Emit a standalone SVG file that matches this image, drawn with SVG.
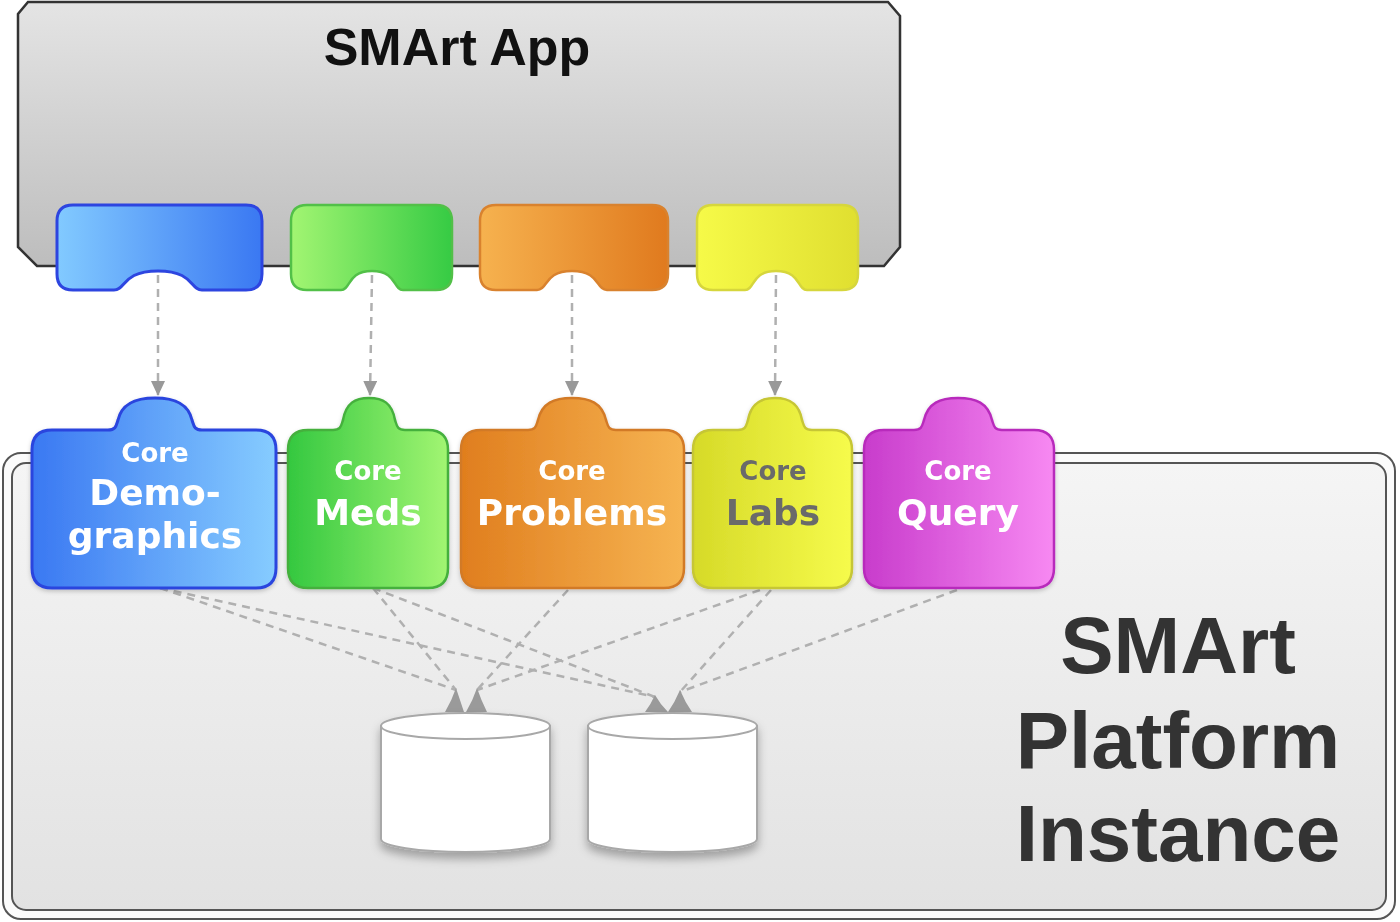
<svg xmlns="http://www.w3.org/2000/svg" width="1400" height="922" viewBox="0 0 1400 922">
<defs>
<style>
.conn{fill:none;stroke:#b0b0b0;stroke-width:2.5;stroke-dasharray:8 6}
.head{fill:#9a9a9a}
.core{font-family:"DejaVu Sans",Verdana,sans-serif;font-weight:bold;font-size:26px;text-anchor:middle;fill:#fff}
.big{font-family:"DejaVu Sans",Verdana,sans-serif;font-weight:bold;font-size:36px;text-anchor:middle;fill:#fff}
.dark{fill:#6a6a6a}
.plat{font-family:"Liberation Sans",Arial,sans-serif;font-weight:bold;font-size:80px;text-anchor:middle;fill:#333}
.cyl{fill:#fff;stroke:#a8a8a8;stroke-width:2}
</style>
<linearGradient id="gApp" x1="0" y1="0" x2="0" y2="1"><stop offset="0" stop-color="#e4e4e4"/><stop offset="1" stop-color="#bdbdbd"/></linearGradient>
<linearGradient id="gPlat" x1="0" y1="0" x2="0" y2="1"><stop offset="0" stop-color="#f5f5f5"/><stop offset="1" stop-color="#e2e2e2"/></linearGradient>
<linearGradient id="sBlue" x1="0" y1="0" x2="1" y2="0"><stop offset="0" stop-color="#82caff"/><stop offset="1" stop-color="#3a78f2"/></linearGradient>
<linearGradient id="sGreen" x1="0" y1="0" x2="1" y2="0"><stop offset="0" stop-color="#a2f572"/><stop offset="1" stop-color="#36cb44"/></linearGradient>
<linearGradient id="sOrange" x1="0" y1="0" x2="1" y2="0"><stop offset="0" stop-color="#f6b24f"/><stop offset="1" stop-color="#e07a1e"/></linearGradient>
<linearGradient id="sYellow" x1="0" y1="0" x2="1" y2="0"><stop offset="0" stop-color="#f6fa48"/><stop offset="1" stop-color="#e0df30"/></linearGradient>
<linearGradient id="pBlue" x1="0" y1="0" x2="1" y2="0"><stop offset="0" stop-color="#3a78f2"/><stop offset="1" stop-color="#86ccff"/></linearGradient>
<linearGradient id="pGreen" x1="0" y1="0" x2="1" y2="0"><stop offset="0" stop-color="#34c840"/><stop offset="1" stop-color="#a2f572"/></linearGradient>
<linearGradient id="pOrange" x1="0" y1="0" x2="1" y2="0"><stop offset="0" stop-color="#e07e1e"/><stop offset="1" stop-color="#f6b452"/></linearGradient>
<linearGradient id="pYellow" x1="0" y1="0" x2="1" y2="0"><stop offset="0" stop-color="#d6da28"/><stop offset="1" stop-color="#f6fb4c"/></linearGradient>
<linearGradient id="pMag" x1="0" y1="0" x2="1" y2="0"><stop offset="0" stop-color="#c83ccc"/><stop offset="1" stop-color="#f789f2"/></linearGradient>
<marker id="arr" viewBox="0 0 15 14" refX="15" refY="7" markerWidth="15" markerHeight="14" markerUnits="userSpaceOnUse" orient="auto">
<path d="M0,0 L15,7 L0,14 Z" fill="#999"/>
</marker>
<filter id="sh" x="-20%" y="-20%" width="140%" height="150%"><feDropShadow dx="0" dy="6" stdDeviation="5" flood-color="#000" flood-opacity="0.3"/></filter>
<filter id="sh2" x="-10%" y="-10%" width="120%" height="130%"><feDropShadow dx="0" dy="2" stdDeviation="2" flood-color="#000" flood-opacity="0.2"/></filter>
</defs>

<g id="platform">
<rect x="3" y="453" width="1392" height="466" rx="18" fill="#fbfbfb" stroke="#555" stroke-width="2"/>
<rect x="12" y="463" width="1374" height="447" rx="14" fill="url(#gPlat)" stroke="#555" stroke-width="2"/>
<text class="plat" x="1178" y="673">SMArt</text>
<text class="plat" x="1178" y="768">Platform</text>
<text class="plat" x="1178" y="861">Instance</text>
</g>

<g id="app">
<path d="M28,2 L888,2 L900,16 L900,247 L884,266 L37,266 L18,247 L18,14 Z" fill="url(#gApp)" stroke="#333" stroke-width="2.5"/>
<text x="457" y="65" font-family="Liberation Sans,Arial,sans-serif" font-weight="bold" font-size="52" text-anchor="middle" fill="#111">SMArt App</text>
</g>

<g id="socket-blue">
<path d="M73,205 L246,205 Q262,205 262,221 L262,274 Q262,290 246,290 L202,290 C190,290 194,271 158,271 C122,271 126,290 114,290 L73,290 Q57,290 57,274 L57,221 Q57,205 73,205 Z" fill="url(#sBlue)" stroke="#2d45e0" stroke-width="3"/>
</g>
<g id="socket-green">
<path d="M307,205 L436,205 Q452,205 452,221 L452,274 Q452,290 436,290 L403,290 C393,290 397,271 372,271 C347,271 351,290 341,290 L307,290 Q291,290 291,274 L291,221 Q291,205 307,205 Z" fill="url(#sGreen)" stroke="#52c048" stroke-width="2.5"/>
</g>
<g id="socket-orange">
<path d="M496,205 L652,205 Q668,205 668,221 L668,274 Q668,290 652,290 L607,290 C596,290 600,271 572,271 C544,271 548,290 537,290 L496,290 Q480,290 480,274 L480,221 Q480,205 496,205 Z" fill="url(#sOrange)" stroke="#d9822e" stroke-width="2.5"/>
</g>
<g id="socket-yellow">
<path d="M713,205 L842,205 Q858,205 858,221 L858,274 Q858,290 842,290 L807,290 C797,290 801,271 776,271 C751,271 755,290 745,290 L713,290 Q697,290 697,274 L697,221 Q697,205 713,205 Z" fill="url(#sYellow)" stroke="#d6d63c" stroke-width="2.5"/>
</g>

<g id="connectors">
<line class="conn" x1="158" y1="275" x2="158" y2="396" marker-end="url(#arr)"/>
<line class="conn" x1="372" y1="275" x2="370" y2="396" marker-end="url(#arr)"/>
<line class="conn" x1="572" y1="275" x2="572" y2="396" marker-end="url(#arr)"/>
<line class="conn" x1="776" y1="275" x2="775" y2="396" marker-end="url(#arr)"/>
<line class="conn" x1="160" y1="588" x2="456" y2="690"/>
<line class="conn" x1="160" y1="588" x2="655" y2="697"/>
<line class="conn" x1="373" y1="588" x2="456" y2="690"/>
<line class="conn" x1="373" y1="588" x2="655" y2="697"/>
<line class="conn" x1="568" y1="590" x2="477" y2="690"/>
<line class="conn" x1="760" y1="590" x2="477" y2="690"/>
<line class="conn" x1="771" y1="590" x2="680" y2="692"/>
<line class="conn" x1="957" y1="590" x2="680" y2="692"/>
<path class="head" d="M445,712 Q452,700 456,688 Q460,700 464,712 Z"/>
<path class="head" d="M466,712 Q473,700 477,688 Q481,700 487,712 Z"/>
<path class="head" d="M645,712 Q651,704 655,695 Q660,704 668,712 Z"/>
<path class="head" d="M668,712 Q675,702 680,690 Q685,702 692,712 Z"/>
</g>

<g id="db1" filter="url(#sh)">
<path class="cyl" d="M381,726 L381,839 A84.5,13 0 0 0 550,839 L550,726 Z"/>
<ellipse class="cyl" cx="465.5" cy="726" rx="84.5" ry="13"/>
</g>
<g id="db2" filter="url(#sh)">
<path class="cyl" d="M588,726 L588,839 A84.5,13 0 0 0 757,839 L757,726 Z"/>
<ellipse class="cyl" cx="672.5" cy="726" rx="84.5" ry="13"/>
</g>

<g id="core-demographics" filter="url(#sh2)">
<path d="M52,430 L108,430 C116,430 116,426 118,420 C122,403 136,398 155,398 C174,398 188,403 192,420 C194,426 194,430 202,430 L256,430 Q276,430 276,450 L276,568 Q276,588 256,588 L52,588 Q32,588 32,568 L32,450 Q32,430 52,430 Z" fill="url(#pBlue)" stroke="#2a44de" stroke-width="3"/>
<text class="core" x="155" y="462">Core</text>
<text class="big" x="155" y="505">Demo-</text>
<text class="big" x="155" y="548">graphics</text>
</g>
<g id="core-meds" filter="url(#sh2)">
<path d="M308,430 L333,430 C341,430 341,426 343,420 C346,403 355,398 369,398 C383,398 392,403 395,420 C397,426 397,430 405,430 L428,430 Q448,430 448,450 L448,568 Q448,588 428,588 L308,588 Q288,588 288,568 L288,450 Q288,430 308,430 Z" fill="url(#pGreen)" stroke="#45b03e" stroke-width="2.5"/>
<text class="core" x="368" y="480">Core</text>
<text class="big" x="368" y="525">Meds</text>
</g>
<g id="core-problems" filter="url(#sh2)">
<path d="M481,430 L528,430 C536,430 536,426 538,420 C542,403 554,398 572,398 C590,398 602,403 606,420 C608,426 608,430 616,430 L664,430 Q684,430 684,450 L684,568 Q684,588 664,588 L481,588 Q461,588 461,568 L461,450 Q461,430 481,430 Z" fill="url(#pOrange)" stroke="#d27a28" stroke-width="2.5"/>
<text class="core" x="572" y="480">Core</text>
<text class="big" x="572" y="525">Problems</text>
</g>
<g id="core-labs" filter="url(#sh2)">
<path d="M713,430 L738,430 C746,430 746,426 748,420 C751,403 761,398 775,398 C789,398 799,403 802,420 C804,426 804,430 812,430 L832,430 Q852,430 852,450 L852,568 Q852,588 832,588 L713,588 Q693,588 693,568 L693,450 Q693,430 713,430 Z" fill="url(#pYellow)" stroke="#c6c634" stroke-width="2.5"/>
<text class="core dark" x="773" y="480">Core</text>
<text class="big dark" x="773" y="525">Labs</text>
</g>
<g id="core-query" filter="url(#sh2)">
<path d="M884,430 L914,430 C922,430 922,426 924,420 C928,403 940,398 958,398 C976,398 988,403 992,420 C994,426 994,430 1002,430 L1034,430 Q1054,430 1054,450 L1054,568 Q1054,588 1034,588 L884,588 Q864,588 864,568 L864,450 Q864,430 884,430 Z" fill="url(#pMag)" stroke="#b82cbc" stroke-width="2.5"/>
<text class="core" x="958" y="480">Core</text>
<text class="big" x="958" y="525">Query</text>
</g>
</svg>
